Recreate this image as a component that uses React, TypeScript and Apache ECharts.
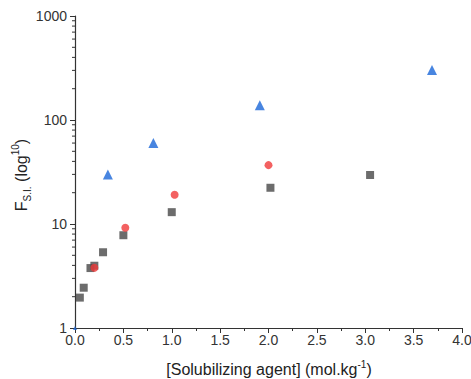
import React, { useEffect, useRef } from "react";
import * as echarts from "echarts";

const squareX = [0.05, 0.09, 0.16, 0.2, 0.29, 0.5, 1.0, 2.02, 3.05];
const squareY = [1.96, 2.44, 3.77, 3.97, 5.35, 7.8, 13, 22.3, 29.6];
const circleX = [0.2, 0.52, 1.03, 2.0];
const circleY = [3.8, 9.2, 19.1, 36.8];
const triangleX = [0.0, 0.34, 0.81, 1.91, 3.69];
const triangleY = [1.0, 30, 60, 139, 302];
const yTickValues = [1, 10, 100, 1000];
const yMinorTicks = [2, 3, 4, 5, 6, 7, 8, 9, 20, 30, 40, 50, 60, 70, 80, 90, 200, 300, 400, 500, 600, 700, 800, 900];

const FONT = "'Liberation Sans', Arial, sans-serif";
const AXIS_COLOR = "#333";

export default function App() {
  const ref = useRef<HTMLDivElement>(null);
  useEffect(() => {
    if (!ref.current) return;
    const chart = echarts.init(ref.current, undefined, { renderer: "svg" });
    const zip = (xs: number[], ys: number[]) => xs.map((x, i) => [x, ys[i]]);
    chart.setOption({
      animation: false,
      backgroundColor: "#fff",
      grid: { left: 75, top: 16, right: 9, bottom: 51, containLabel: false, outerBoundsMode: "none" },
      xAxis: {
        type: "value",
        min: 0,
        max: 4,
        interval: 0.5,
        axisLine: { show: true, lineStyle: { color: AXIS_COLOR, width: 1.2 } },
        axisTick: { show: true, inside: false, length: 5, lineStyle: { color: AXIS_COLOR } },
        minorTick: { show: true, splitNumber: 2, length: 3, lineStyle: { color: AXIS_COLOR } },
        axisLabel: {
          fontFamily: FONT,
          fontSize: 14,
          color: "#333",
          margin: 5,
          formatter: (v: number) => v.toFixed(1),
        },
        splitLine: { show: false },
      },
      yAxis: {
        type: "log",
        logBase: 10,
        min: yTickValues[0],
        max: yTickValues[yTickValues.length - 1],
        axisLine: { show: true, lineStyle: { color: AXIS_COLOR, width: 1.2 } },
        axisTick: { show: true, inside: false, length: 5, lineStyle: { color: AXIS_COLOR } },
        axisLabel: {
          fontFamily: FONT,
          fontSize: 14,
          color: "#333",
          margin: 8,
          formatter: (v: number) => String(Math.round(v)),
        },
        splitLine: { show: false },
      },
      graphic: [
        {
          type: "text",
          x: 21,
          y: 175,
          rotation: Math.PI / 2,
          style: {
            text: "{a|F}{sub|S.I.}{a| (log}{sup|10}{a|)}",
            align: "center",
            verticalAlign: "middle",
            fill: "#222",
            rich: {
              a: { fontSize: 16, fontFamily: FONT, fill: "#222", lineHeight: 22 },
              sub: { fontSize: 10, fontFamily: FONT, fill: "#222", verticalAlign: "bottom", lineHeight: 12 },
              sup: { fontSize: 10, fontFamily: FONT, fill: "#222", verticalAlign: "top", lineHeight: 12 },
            },
          },
        },
        {
          type: "text",
          x: 269,
          y: 369,
          style: {
            text: "{a|[Solubilizing agent] (mol.kg}{sup|-1}{a|)}",
            align: "center",
            verticalAlign: "middle",
            fill: "#222",
            rich: {
              a: { fontSize: 16, fontFamily: FONT, fill: "#222", lineHeight: 20 },
              sup: { fontSize: 10, fontFamily: FONT, fill: "#222", verticalAlign: "top", lineHeight: 12 },
            },
          },
        },
      ],
      series: [
        {
          type: "custom",
          silent: true,
          clip: false,
          data: yMinorTicks.map((v) => [0, v]),
          renderItem: (params: any, api: any) => {
            const p = api.coord([api.value(0), api.value(1)]);
            return {
              type: "line",
              shape: { x1: p[0] - 3, y1: p[1], x2: p[0], y2: p[1] },
              style: { stroke: AXIS_COLOR, lineWidth: 1 },
            };
          },
          z: 1,
        },
        {
          type: "scatter",
          symbol: "rect",
          symbolSize: 8,
          itemStyle: { color: "#474747" },
          data: zip(squareX, squareY),
          z: 3,
        },
        {
          type: "scatter",
          symbol: "circle",
          symbolSize: 8,
          itemStyle: { color: "#f03a3a" },
          data: zip(circleX, circleY),
          z: 4,
        },
        {
          type: "scatter",
          symbol: "triangle",
          symbolSize: 10,
          itemStyle: { color: "#1a66d8" },
          data: zip(triangleX, triangleY).map((d, i) => (i === 0 ? { value: d, symbolSize: 4 } : d)),
          z: 5,
        },
      ],
    });
    return () => chart.dispose();
  }, []);
  return (
    <div
      ref={ref}
      style={{ position: "absolute", left: 0, top: 0, width: 471, height: 379, overflow: "hidden" }}
    />
  );
}
